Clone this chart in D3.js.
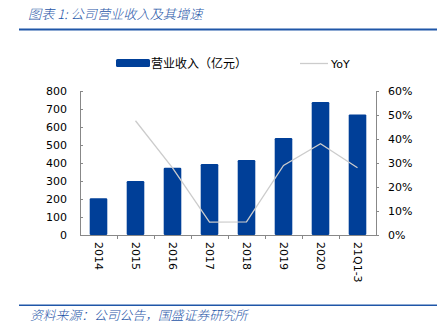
<!DOCTYPE html>
<html>
<head>
<meta charset="utf-8">
<script src="https://cdn.jsdelivr.net/npm/d3@7"></script>
<style>
  html, body { margin: 0; padding: 0; background: #fff; }
  svg { display: block; }
  .tick text { font-family: "DejaVu Sans", Verdana, sans-serif; font-size: 11px; fill: #000; }
</style>
</head>
<body>
<script>
// Revenue (亿元) and year-over-year growth by period
const categories = ["2014", "2015", "2016", "2017", "2018", "2019", "2020", "21Q1-3"];
const revenue = [204, 300, 374, 394, 417, 539, 739, 670];
const yoy = [null, 0.476, 0.28, 0.054, 0.055, 0.29, 0.38, 0.28];
const leftTicks = [0, 100, 200, 300, 400, 500, 600, 700, 800];
const rightTicks = [0, 0.1, 0.2, 0.3, 0.4, 0.5, 0.6];

const W = 437, H = 333;
const blue = "#003f98";
const headBlue = "#1f56a8";

const svg = d3.select("body").append("svg").attr("width", W).attr("height", H);

// Header and footer
svg.append("text").attr("x", 28).attr("y", 19)
  .attr("font-family", "'Noto Sans CJK SC', sans-serif").attr("font-size", 13.2)
  .attr("font-style", "italic").attr("font-weight", 300).attr("fill", headBlue)
  .text("图表 1:  公司营业收入及其增速");
svg.append("rect").attr("x", 19).attr("y", 28.5).attr("width", W - 19).attr("height", 2).attr("fill", headBlue);
svg.append("rect").attr("x", 19).attr("y", 304.5).attr("width", W - 19).attr("height", 1.5).attr("fill", headBlue);
svg.append("text").attr("x", 30).attr("y", 320)
  .attr("font-family", "'Noto Sans CJK SC', sans-serif").attr("font-size", 12.8)
  .attr("font-style", "italic").attr("font-weight", 300).attr("fill", headBlue)
  .text("资料来源：公司公告，国盛证券研究所");

// Plot area
const x0 = 80, x1 = 376, yTop = 91, yBot = 235;
const xb = d3.scaleBand().domain(categories).range([x0, x1]);
const yL = d3.scaleLinear().domain([0, 800]).range([yBot, yTop]);
const yR = d3.scaleLinear().domain([0, 0.6]).range([yBot, yTop]);

// Bars
svg.append("g").selectAll("rect").data(categories).join("rect")
  .attr("x", d => xb(d) + xb.bandwidth() / 2 - 8.8)
  .attr("width", 17.6)
  .attr("y", (d, i) => yL(revenue[i]))
  .attr("height", (d, i) => yBot - yL(revenue[i]))
  .attr("rx", 1.2)
  .attr("fill", blue);

// Growth line
const pts = categories.map((c, i) => [xb(c) + xb.bandwidth() / 2, yoy[i]]).filter(p => p[1] !== null);
svg.append("path").datum(pts)
  .attr("fill", "none").attr("stroke", "#cccccc").attr("stroke-width", 1.3)
  .attr("d", d3.line().x(p => p[0]).y(p => yR(p[1])));

// Left axis
const gL = svg.append("g").attr("transform", `translate(${x0},0)`)
  .call(d3.axisLeft(yL).tickValues(leftTicks).tickSize(-3).tickPadding(13));
gL.select(".domain").attr("stroke", "#888").attr("d", `M0.5,${yTop}V${yBot}`);
gL.selectAll(".tick line").attr("stroke", "#888");

// Right axis
const gR = svg.append("g").attr("transform", `translate(${x1},0)`)
  .call(d3.axisRight(yR).tickValues(rightTicks).tickSize(3).tickPadding(9).tickFormat(d3.format(".0%")));
gR.select(".domain").attr("stroke", "#888").attr("d", `M0.5,${yTop}V${yBot}`);
gR.selectAll(".tick line").attr("stroke", "#888");

// Category axis
const gX = svg.append("g").attr("transform", `translate(0,${yBot})`)
  .call(d3.axisBottom(xb).tickSize(0).tickPadding(0));
gX.select(".domain").attr("stroke", "#888").attr("d", `M${x0},0.5H${x1}`);
gX.selectAll(".tick text")
  .attr("transform", "translate(0,7) rotate(90)")
  .attr("text-anchor", "start").attr("dy", "0.35em").attr("x", 0).attr("y", 0);
svg.append("g").selectAll("line").data(categories.slice(1)).join("line")
  .attr("x1", d => xb(d) + 0.5).attr("x2", d => xb(d) + 0.5)
  .attr("y1", yBot).attr("y2", yBot + 4).attr("stroke", "#888");

// Legend
svg.append("rect").attr("x", 116).attr("y", 59).attr("width", 34).attr("height", 8).attr("rx", 1.5).attr("fill", blue);
svg.append("text").attr("x", 151).attr("y", 67.5)
  .attr("font-family", "'Noto Sans CJK SC', sans-serif").attr("font-size", 12).attr("fill", "#000")
  .text("营业收入（亿元）");
svg.append("line").attr("x1", 300).attr("x2", 328).attr("y1", 63.5).attr("y2", 63.5)
  .attr("stroke", "#cccccc").attr("stroke-width", 1.3);
svg.append("text").attr("x", 331).attr("y", 67.5)
  .attr("font-family", "'DejaVu Sans', Verdana, sans-serif").attr("font-size", 11).attr("fill", "#000")
  .text("YoY");
</script>
</body>
</html>
